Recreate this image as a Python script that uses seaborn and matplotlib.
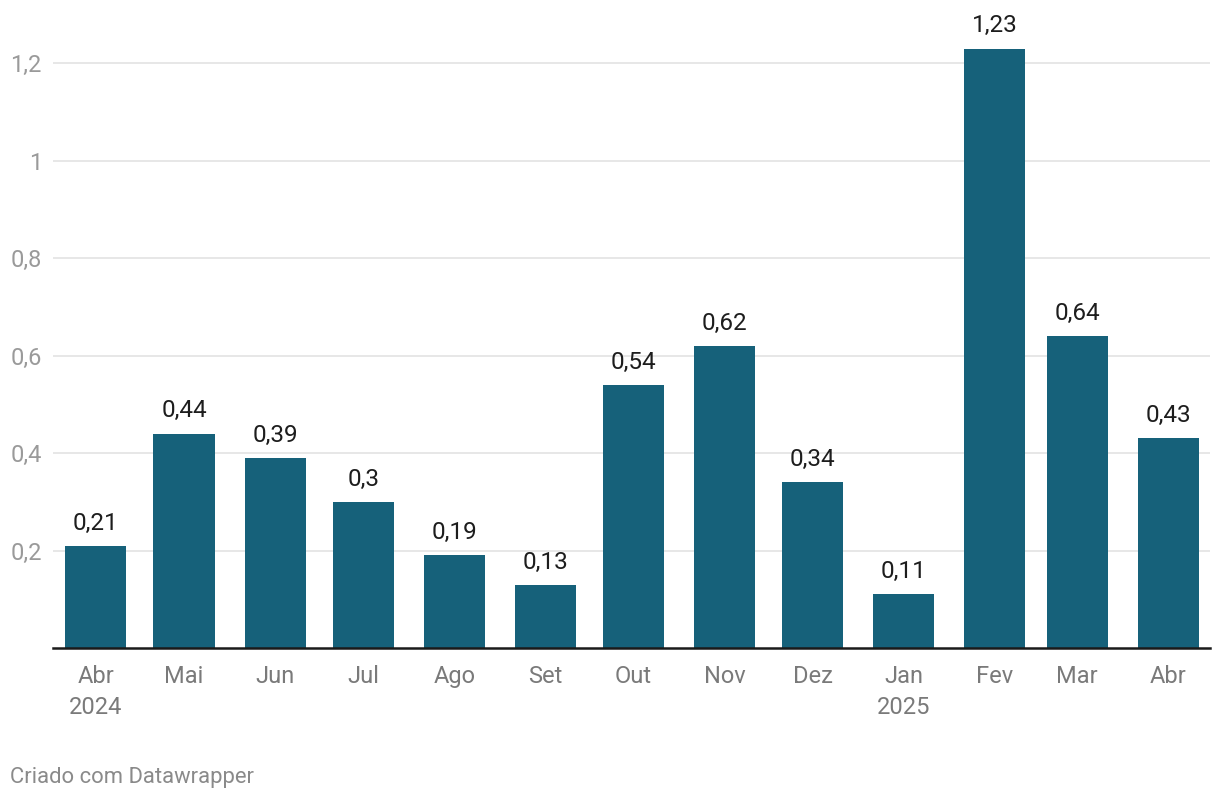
import pandas as pd
import matplotlib.pyplot as plt
import seaborn as sns

# monthly values (%)
dates = ['2024-04-01', '2024-05-01', '2024-06-01', '2024-07-01', '2024-08-01', '2024-09-01',
         '2024-10-01', '2024-11-01', '2024-12-01', '2025-01-01', '2025-02-01', '2025-03-01',
         '2025-04-01']
values = [0.21, 0.44, 0.39, 0.30, 0.19, 0.13, 0.54, 0.62, 0.34, 0.11, 1.23, 0.64, 0.43]
labels = ['Abr\n2024', 'Mai', 'Jun', 'Jul', 'Ago', 'Set', 'Out', 'Nov', 'Dez',
          'Jan\n2025', 'Fev', 'Mar', 'Abr']
yticks = [0.2, 0.4, 0.6, 0.8, 1.0, 1.2]

bar_color = '#16617a'

sns.set_style('white')
plt.rcParams['font.family'] = ['Roboto', 'DejaVu Sans']

d = pd.to_datetime(dates)
df = pd.DataFrame({'day': (d - d[0]).days, 'value': values})

fig = plt.figure(figsize=(12.2, 8), dpi=100)
ax = fig.add_axes([0.0434, 0.19, 0.9486, 0.792])

sns.barplot(data=df, x='day', y='value', native_scale=True, width=0.743,
            color=bar_color, saturation=1, linewidth=0, ax=ax, zorder=2)

#value labels above bars
for day, v in zip(df['day'], df['value']):
    txt = ('%g' % v).replace('.', ',')
    ax.annotate(txt, (day, v), xytext=(0, 8), textcoords='offset points',
                ha='center', va='bottom', fontsize=17.5, color='#1d1d1d')

ax.set_xlim(-14.6, 379.3)
ax.set_ylim(0, 1.3)
ax.set_xticks(df['day'])
ax.set_xticklabels(labels, linespacing=1.45, va='top')
ax.set_yticks(yticks)
ax.set_yticklabels([('%g' % t).replace('.', ',') for t in yticks])
ax.grid(axis='y', color='#e3e3e3', lw=1.2, zorder=0)
ax.set_axisbelow(True)
ax.tick_params(axis='x', length=0, pad=12, labelsize=17, labelcolor='#7a7a7a')
ax.tick_params(axis='y', length=0, pad=8, labelsize=17, labelcolor='#9a9a9a')
for s in ['top', 'right', 'left']:
    ax.spines[s].set_visible(False)
ax.spines['bottom'].set_color('#1a1a1a')
ax.spines['bottom'].set_linewidth(1.8)
ax.spines['bottom'].set_zorder(3)
ax.set_xlabel('')
ax.set_ylabel('')

fig.text(0.008, 0.028, 'Criado com Datawrapper', fontsize=15.8, color='#8a8a8a',
         ha='left', va='center')

fig.savefig('out.png', dpi=100)
